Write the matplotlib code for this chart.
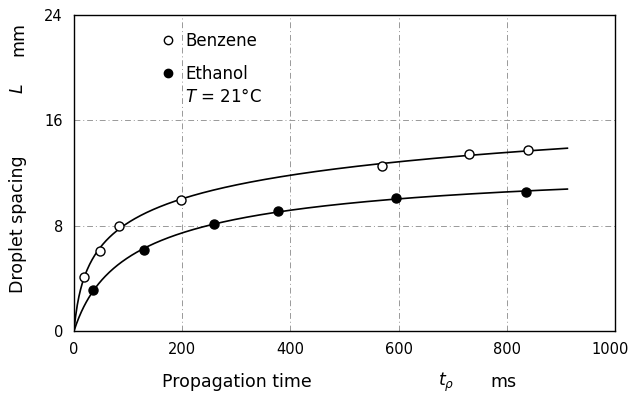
import numpy as np
import matplotlib
matplotlib.use("Agg")
import matplotlib.pyplot as plt
from matplotlib.transforms import ScaledTranslation

# Data
benzene_t = [18.5, 48, 83, 197, 569, 731, 839]
benzene_L = [4.07, 6.09, 8.0, 9.97, 12.54, 13.44, 13.72]
ethanol_t = [36, 129, 259, 378, 596, 835]
ethanol_L = [3.15, 6.16, 8.1, 9.13, 10.07, 10.58]
curve_end = 912

xticks = [0, 200, 400, 600, 800, 1000]
yticks = [0, 8, 16, 24]

plt.rcParams['font.family'] = ['DejaVu Sans']
fig = plt.figure(figsize=(6.3, 3.94), dpi=100)
ax = fig.add_axes([74/630, 1-331/394, 541/630, 316/394])


def smooth_curve(t, L, tmax):
    """Least-squares fit L = a*g + c*g^2, g = ln(1 + t/b), best b on a grid."""
    t = np.asarray(t, float)
    L = np.asarray(L, float)
    best = None
    for b in np.linspace(0.3, 60, 600):
        g = np.log1p(t / b)
        A = np.column_stack([g, g**2])
        coef, *_ = np.linalg.lstsq(A, L, rcond=None)
        err = np.sum((A @ coef - L) ** 2)
        if best is None or err < best[0]:
            best = (err, b, coef)
    _, b, coef = best
    tt = np.linspace(0, tmax, 600)
    g = np.log1p(tt / b)
    return tt, coef[0] * g + coef[1] * g**2


for t, L, face in [(benzene_t, benzene_L, 'white'), (ethanol_t, ethanol_L, 'black')]:
    tt, LL = smooth_curve(t, L, curve_end)
    ax.plot(tt, LL, color='black', lw=1.2, zorder=3)
    ax.plot(t, L, 'o', ms=6.5, mfc=face, mec='black', mew=1.0, zorder=4)

ax.set_xlim(0, 1000)
ax.set_ylim(0, 24)
ax.set_xticks(xticks)
ax.set_yticks(yticks)
ax.tick_params(length=0, labelsize=10.5, pad=8)
for s in ax.spines.values():
    s.set_linewidth(1.0)
ax.grid(True, color='#999999', lw=0.7, ls=(0, (6, 3, 1, 3)))
ax.set_axisbelow(True)

# legend
ax.plot([], [], 'o', ms=6, mfc='white', mec='black', label='Benzene')
ax.plot([], [], 'o', ms=6, mfc='black', mec='black', label='Ethanol')
ax.legend(handles=ax.lines[-2:], loc='upper left', bbox_to_anchor=(0.13, 0.995),
          frameon=False, fontsize=12, handletextpad=0.55, handlelength=1.0,
          labelspacing=0.9, borderaxespad=0.5)
ax.text(0.205, 0.74, r'$T$ = 21$\degree$C', transform=ax.transAxes, fontsize=12,
        ha='left', va='center')

# axis labels
fig.text(18/630, 1-224/394, 'Droplet spacing', rotation=90, ha='center', va='center', fontsize=12.5)
fig.text(18/630, 1-89/394, r'$L$', rotation=90, ha='center', va='center', fontsize=12.5)
fig.text(18/630, 1-39/394, 'mm', rotation=90, ha='center', va='center', fontsize=12.5)
fig.text(237/630, 1-382/394, 'Propagation time', ha='center', va='center', fontsize=12.5)
fig.text(446/630, 1-382/394, r'$t_{\rho}$', ha='center', va='center', fontsize=12.5)
fig.text(503/630, 1-382/394, 'ms', ha='center', va='center', fontsize=12.5)

fig.canvas.draw()
lab = ax.get_xticklabels()[-1]
lab.set_transform(lab.get_transform() + ScaledTranslation(-0.05, 0, fig.dpi_scale_trans))

fig.savefig('out.png', dpi=100)
